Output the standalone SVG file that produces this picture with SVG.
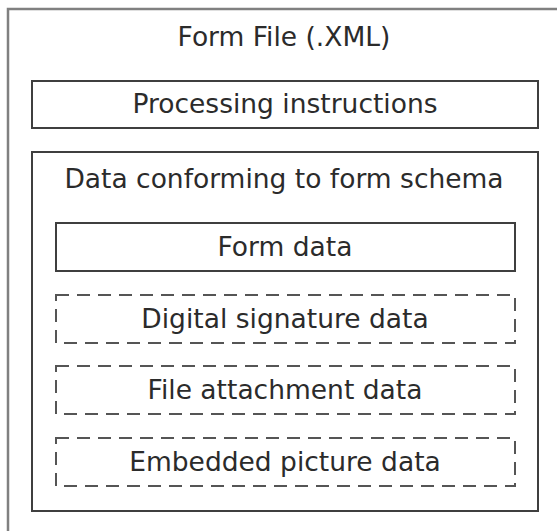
<svg xmlns="http://www.w3.org/2000/svg" width="557" height="531" viewBox="0 0 557 531">
<style>
.t{font-family:"DejaVu Sans","Verdana",sans-serif;font-size:26.5px;fill:#2b2b2b;text-anchor:middle}
.solid{fill:#fff;stroke:#3f3f3f;stroke-width:2}
.dash{fill:#fff;stroke:#555;stroke-width:2;stroke-dasharray:13 8}
</style>
<rect width="557" height="531" fill="#fff"/>
<g id="form-file">
<rect x="8" y="9" width="600" height="600" fill="#fff" stroke="#808080" stroke-width="2.5"/>
<text class="t" x="284" y="46">Form File (.XML)</text>
</g>
<g id="processing-instructions">
<rect class="solid" x="32" y="81" width="506" height="47"/>
<text class="t" x="285" y="113">Processing instructions</text>
</g>
<g id="data-conforming">
<rect class="solid" x="32" y="152" width="506" height="359"/>
<text class="t" x="284" y="188">Data conforming to form schema</text>
</g>
<g id="form-data">
<rect class="solid" x="56" y="223" width="459" height="48"/>
<text class="t" x="285" y="256">Form data</text>
</g>
<g id="digital-signature-data">
<rect class="dash" x="56" y="295" width="459" height="48"/>
<text class="t" x="285" y="328">Digital signature data</text>
</g>
<g id="file-attachment-data">
<rect class="dash" x="56" y="366" width="459" height="48"/>
<text class="t" x="285" y="399">File attachment data</text>
</g>
<g id="embedded-picture-data">
<rect class="dash" x="56" y="438" width="459" height="48"/>
<text class="t" x="285" y="471">Embedded picture data</text>
</g>
<g id="connectors"/>
</svg>
